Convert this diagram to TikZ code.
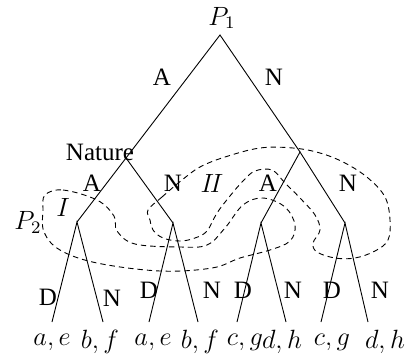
\documentclass[tikz,border=0pt]{standalone}
\usepackage{fontspec}
\setmainfont{Liberation Serif}
\begin{document}
\begin{tikzpicture}[x=0.5pt,y=-0.5pt,
  edge/.style={line width=0.45pt},
  info/.style={line width=0.45pt,dash pattern=on 2.7pt off 2pt},
  lbl/.style={inner sep=0pt,font=\fontsize{12.5}{15}\selectfont},
  mlbl/.style={inner sep=0pt,scale=1.1,font=\fontsize{12}{14}\selectfont}]
\useasboundingbox (0,0) rectangle (411,358);
% tree nodes
\coordinate (r) at (220,35);
\coordinate (n1) at (126,158);
\coordinate (n2) at (300,152);
\coordinate (n11) at (77,222);
\coordinate (n12) at (173,223);
\coordinate (n21) at (261,223);
\coordinate (n22) at (345,223);
\coordinate (l1) at (52,322);
\coordinate (l2) at (103,322);
\coordinate (l3) at (149,322);
\coordinate (l4) at (198,322);
\coordinate (l5) at (237,322);
\coordinate (l6) at (286,322);
\coordinate (l7) at (321,322);
\coordinate (l8) at (368,322);
% edges
\draw[edge] (n1) -- (r) -- (n2);
\draw[edge] (n11) -- (n1) -- (n12);
\draw[edge] (n21) -- (n2) -- (n22);
\draw[edge] (l1) -- (n11) -- (l2);
\draw[edge] (l3) -- (n12) -- (l4);
\draw[edge] (l5) -- (n21) -- (l6);
\draw[edge] (l7) -- (n22) -- (l8);
% information sets
\draw[info] plot[smooth cycle, tension=0.6] coordinates {
  (45,195) (63,190) (97,200) (114,216) (117,231) (135,244) (180,247)
  (207,245) (225,228) (243,205) (263,198) (285,207) (295,225) (290,241)
  (270,250) (240,258) (212,268) (160,271) (97,263) (60,250) (44,232) (43,210)};
\draw[info] plot[smooth cycle, tension=0.6] coordinates {
  (148,210) (162,197) (182,180) (200,167) (225,157) (260,148) (293,148)
  (320,153) (345,163) (368,178) (385,197) (390,220) (388,240) (375,251)
  (355,258) (335,258) (317,252) (313,243) (320,230) (315,215) (300,198)
  (285,183) (272,170) (255,171) (243,181) (230,196) (217,213) (207,231)
  (195,238) (180,241) (163,238) (153,230) (150,220)};
% labels
\node[mlbl] (p1) at (222,18) {$P_1$};
\node[lbl] (a0) at (162,77) {A};
\node[lbl] (n0) at (274,77) {N};
\node[lbl] (nat) at (100,152) {Nature};
\node[lbl] (a1) at (92,183) {A};
\node[lbl] (nn1) at (173,183) {N};
\node[mlbl] (ii) at (212,183) {$I\!I$};
\node[lbl] (a2) at (268,183) {A};
\node[lbl] (nn2) at (348,183) {N};
\node[mlbl] (i1) at (63,207) {$I$};
\node[mlbl] (p2) at (28,222) {$P_2$};
\node[lbl] (d1) at (48,297) {D};
\node[lbl] (m1) at (112,298) {N};
\node[lbl] (d2) at (149,290) {D};
\node[lbl] (m2) at (212,290) {N};
\node[lbl] (d3) at (243,290) {D};
\node[lbl] (m3) at (293,290) {N};
\node[lbl] (d4) at (332,290) {D};
\node[lbl] (m4) at (380,290) {N};
\node[mlbl] (o1) at (52,342) {$a,e$};
\node[mlbl] (o2) at (100,342) {$b,f$};
\node[mlbl] (o3) at (153,342) {$a,e$};
\node[mlbl] (o4) at (200,342) {$b,f$};
\node[mlbl] (o5) at (245,342) {$c,g$};
\node[mlbl] (o6) at (282,342) {$d,h$};
\node[mlbl] (o7) at (332,342) {$c,g$};
\node[mlbl] (o8) at (385,342) {$d,h$};
\end{tikzpicture}
\end{document}
